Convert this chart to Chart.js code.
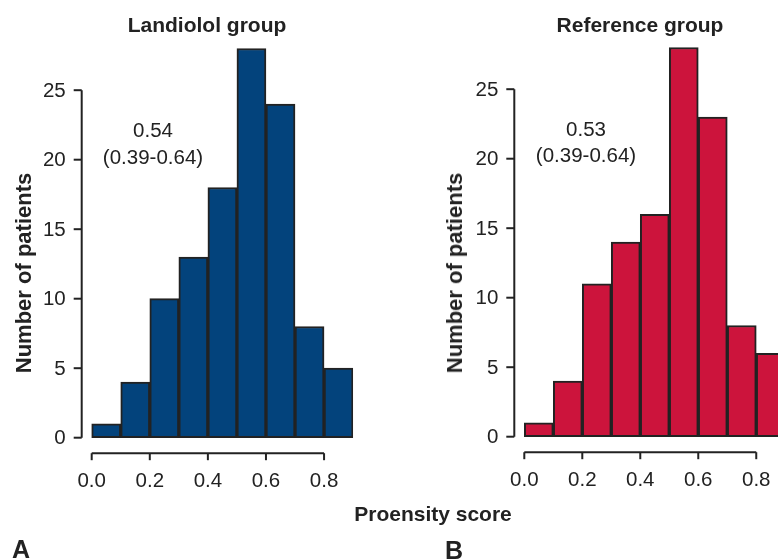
<!DOCTYPE html>
<html>
<head>
<meta charset="utf-8">
<script src="https://cdn.jsdelivr.net/npm/chart.js@4"></script>
<style>
  html, body { margin: 0; padding: 0; background: #fff; }
  #page { position: relative; width: 778px; height: 559px; overflow: hidden; font-family: "Liberation Sans", Arial, sans-serif; color: #222; }
  canvas { position: absolute; top: 0; }
  .lbl { position: absolute; white-space: nowrap; transform: translate(-50%, -50%); line-height: 1; }
  .bold { font-weight: bold; }
</style>
</head>
<body>
<div id="page">
  <canvas id="chartA" width="389" height="559" style="left:0"></canvas>
  <canvas id="chartB" width="389" height="559" style="left:389px"></canvas>

  <div class="lbl bold" style="left:207px;top:24px;font-size:21px">Landiolol group</div>
  <div class="lbl bold" style="left:640px;top:24px;font-size:21px">Reference group</div>

  <div class="lbl" style="left:153px;top:130px;font-size:20.5px">0.54</div>
  <div class="lbl" style="left:153px;top:157px;font-size:20.5px">(0.39-0.64)</div>
  <div class="lbl" style="left:586px;top:129px;font-size:20.5px">0.53</div>
  <div class="lbl" style="left:586px;top:155px;font-size:20.5px">(0.39-0.64)</div>

  <div class="lbl bold" style="left:24px;top:273px;font-size:22px;transform:translate(-50%,-50%) rotate(-90deg)">Number of patients</div>
  <div class="lbl bold" style="left:455px;top:273px;font-size:22px;transform:translate(-50%,-50%) rotate(-90deg)">Number of patients</div>

  <div class="lbl bold" style="left:433px;top:513px;font-size:21px">Proensity score</div>
  <div class="lbl bold" style="left:21px;top:549px;font-size:25px">A</div>
  <div class="lbl bold" style="left:454px;top:550px;font-size:25px">B</div>
</div>

<script>
// Histogram bins (mid points, width 0.1)
const binMids = [0.05, 0.15, 0.25, 0.35, 0.45, 0.55, 0.65, 0.75, 0.85];
const landiololCounts = [1, 4, 10, 13, 18, 28, 24, 8, 5];
const referenceCounts = [1, 4, 11, 14, 16, 28, 23, 8, 6];
const yTicks = [0, 5, 10, 15, 20, 25];
const xTicks = [0.0, 0.2, 0.4, 0.6, 0.8];

const ink = '#222';
const tickFont = '20.5px "Liberation Sans", Arial, sans-serif';

// R-style detached axes, drawn from the chart scales
const detachedAxes = {
  id: 'detachedAxes',
  afterDatasetsDraw(chart) {
    const { ctx, chartArea, scales: { x, y } } = chart;
    const ax = chartArea.left - 10;
    const ay = y.getPixelForValue(0) + 15.5;
    ctx.save();
    ctx.strokeStyle = ink;
    ctx.fillStyle = ink;
    ctx.lineWidth = 2;
    ctx.font = tickFont;

    // y axis
    ctx.beginPath();
    ctx.moveTo(ax, y.getPixelForValue(yTicks[0]));
    ctx.lineTo(ax, y.getPixelForValue(yTicks[yTicks.length - 1]));
    ctx.stroke();
    ctx.textAlign = 'right';
    ctx.textBaseline = 'middle';
    yTicks.forEach(v => {
      const py = y.getPixelForValue(v);
      ctx.beginPath();
      ctx.moveTo(ax, py);
      ctx.lineTo(ax - 8, py);
      ctx.stroke();
      ctx.fillText(String(v), ax - 16, py + 1);
    });

    // x axis
    ctx.beginPath();
    ctx.moveTo(x.getPixelForValue(xTicks[0]), ay);
    ctx.lineTo(x.getPixelForValue(xTicks[xTicks.length - 1]), ay);
    ctx.stroke();
    ctx.textAlign = 'center';
    xTicks.forEach(v => {
      const px = x.getPixelForValue(v);
      ctx.beginPath();
      ctx.moveTo(px, ay);
      ctx.lineTo(px, ay + 7);
      ctx.stroke();
      ctx.fillText(v.toFixed(1), px, ay + 28);
    });
    ctx.restore();
  }
};

function buildHistogram(id, counts, color, xMax, padding) {
  return new Chart(document.getElementById(id), {
    type: 'bar',
    data: {
      datasets: [{
        data: binMids.map((m, i) => ({ x: m, y: counts[i] })),
        backgroundColor: color,
        borderColor: ink,
        borderWidth: 2,
        borderSkipped: false,
        barPercentage: 1,
        categoryPercentage: 1,
        clip: { left: 5, top: 5, bottom: 5, right: 0 }
      }]
    },
    options: {
      responsive: false,
      animation: false,
      layout: { padding },
      plugins: { legend: { display: false }, tooltip: { enabled: false } },
      scales: {
        x: { type: 'linear', offset: false, min: 0, max: xMax, display: false },
        y: { min: 0, max: 30, display: false }
      }
    },
    plugins: [detachedAxes]
  });
}

buildHistogram('chartA', landiololCounts, '#03437c', 0.9,
  { left: 91.7, right: 35.9, top: 20.7, bottom: 121.3 });
buildHistogram('chartB', referenceCounts, '#cc143c', 0.875,
  { left: 135.3, right: 0, top: 19.7, bottom: 122.3 });
</script>
</body>
</html>
